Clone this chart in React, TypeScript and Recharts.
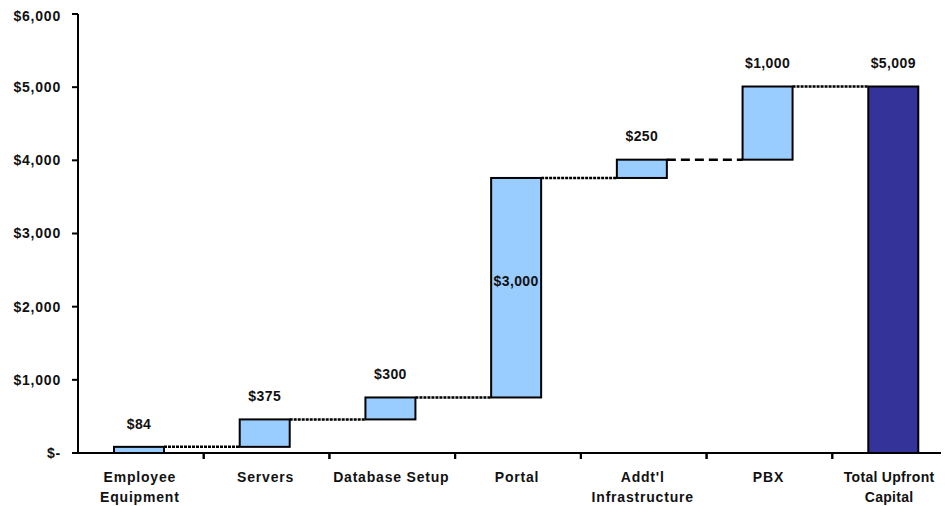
import { BarChart, Bar, XAxis, YAxis, LabelList } from 'recharts'

const categories = [
  'Employee\nEquipment',
  'Servers',
  'Database Setup',
  'Portal',
  "Addt'l\nInfrastructure",
  'PBX',
  'Total Upfront\nCapital',
]
const increments = [84, 375, 300, 3000, 250, 1000]
const totalValue = 5009
const yTicks = [0, 1000, 2000, 3000, 4000, 5000, 6000]

const CHART_W = 958
const CHART_H = 498
const Y_AXIS_W = 70
const MARGIN = { top: 6, right: 8, bottom: 0, left: 0 }
const PLOT_H = 439
const BAND = (CHART_W - Y_AXIS_W - MARGIN.right - MARGIN.left) / categories.length

const FONT = '"Liberation Sans", Arial, sans-serif'
const LIGHT = '#99ccff'
const DARK = '#333399'

let running = 0
const data = categories.map((name, i) => {
  if (i < increments.length) {
    const row = { name, base: running, value: increments[i], isTotal: false }
    running += increments[i]
    return row
  }
  return { name, base: 0, value: totalValue, isTotal: true }
})

const money = (v: number) => (v === 0 ? '$-' : '$' + v.toLocaleString('en-US'))

function WaterfallBar(props: any) {
  const { x, y, width, height, index, payload } = props
  const last = index === categories.length - 1
  return (
    <g>
      <rect
        x={x - 2}
        y={y}
        width={width}
        height={height}
        fill={payload.isTotal ? DARK : LIGHT}
        stroke="#000"
        strokeWidth={2}
      />
      {!last && (
        <line
          x1={x - 2 + width}
          x2={x - 2 + BAND}
          y1={y}
          y2={y}
          stroke="#000"
          strokeWidth={2.5}
          strokeDasharray={index === 4 ? '9 5' : '3 1'}
        />
      )}
    </g>
  )
}

function ValueLabel(props: any) {
  const { x, y, width, height, value, index } = props
  const inside = index === 3
  return (
    <text
      x={x - 2 + width / 2}
      y={inside ? y + height / 2 - 5 : y - 22}
      textAnchor="middle"
      dominantBaseline="middle"
      fontFamily={FONT}
      fontWeight="bold"
      fontSize={14}
      letterSpacing={0.4}
      fill="#111"
    >
      {money(value)}
    </text>
  )
}

function CategoryTick(props: any) {
  const { x, y, payload, index } = props
  const lines = String(payload.value).split('\n')
  // last label sits against the window edge: pull it in a little
  const edge = index === categories.length - 1
  return (
    <g>
      {index > 0 && (
        <line x1={x - BAND / 2} x2={x - BAND / 2} y1={y - 8} y2={y - 2} stroke="#000" strokeWidth={2} />
      )}
      <line x1={x + BAND / 2} x2={x + BAND / 2} y1={y - 8} y2={y - 2} stroke="#000" strokeWidth={2} />
      {lines.map((ln, k) => (
        <text
          key={k}
          x={edge ? x - 6 : x - 1}
          y={y + 17 + k * 20}
          textAnchor="middle"
          dominantBaseline="middle"
          fontFamily={FONT}
          fontWeight="bold"
          fontSize={14}
          letterSpacing={edge ? 0.3 : 0.8}
          fill="#111"
        >
          {ln}
        </text>
      ))}
    </g>
  )
}

export default function App() {
  return (
    <div style={{ width: CHART_W, height: CHART_H }}>
      <style>{'html{overflow:hidden}'}</style>
      <BarChart width={CHART_W} height={CHART_H} data={data} margin={MARGIN} barSize={50}>
        <XAxis
          dataKey="name"
          height={CHART_H - MARGIN.top - PLOT_H}
          axisLine={{ stroke: '#000', strokeWidth: 2 }}
          tickLine={false}
          tick={<CategoryTick />}
          interval={0}
        />
        <YAxis
          width={Y_AXIS_W}
          domain={[0, 6000]}
          ticks={yTicks}
          tickFormatter={money}
          axisLine={{ stroke: '#000', strokeWidth: 2 }}
          tickLine={{ stroke: '#000', strokeWidth: 2 }}
          tickSize={6}
          tickMargin={11}
          tick={{ fontFamily: FONT, fontWeight: 'bold', fontSize: 14, fill: '#111', letterSpacing: 0.8 }}
        />
        <Bar dataKey="base" stackId="w" fill="transparent" isAnimationActive={false} />
        <Bar dataKey="value" stackId="w" shape={<WaterfallBar />} isAnimationActive={false}>
          <LabelList dataKey="value" content={<ValueLabel />} />
        </Bar>
      </BarChart>
    </div>
  )
}
